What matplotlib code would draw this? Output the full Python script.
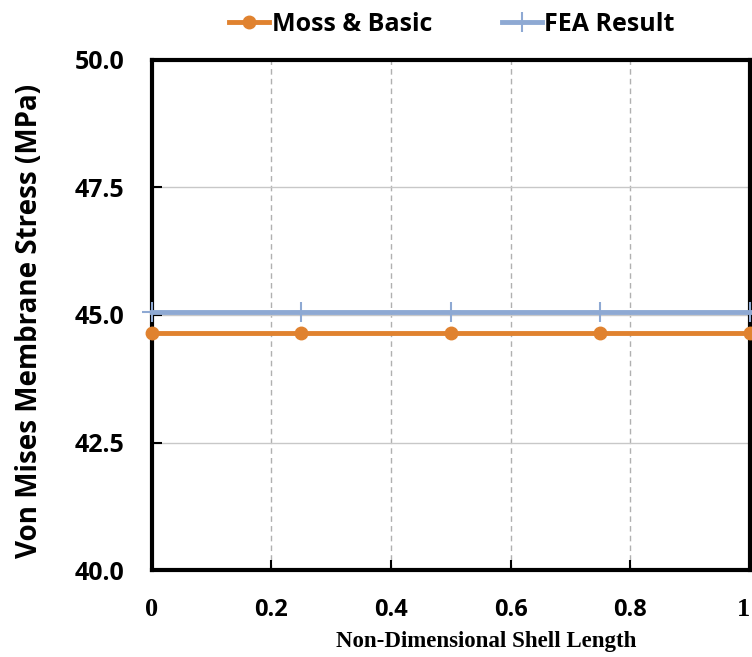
import matplotlib
matplotlib.use("Agg")
import matplotlib.pyplot as plt
from matplotlib.lines import Line2D

x = [0, 0.25, 0.5, 0.75, 1.0]
moss_basic = [44.65, 44.65, 44.65, 44.65, 44.65]
fea_result = [45.05, 45.05, 45.05, 45.05, 45.05]
xticks = [0, 0.2, 0.4, 0.6, 0.8, 1]
xticklabels = ["0", "0.2", "0.4", "0.6", "0.8", "1"]
yticks = [40.0, 42.5, 45.0, 47.5, 50.0]
yticklabels = ["40.0", "42.5", "45.0", "47.5", "50.0"]

fig = plt.figure(figsize=(7.52, 6.57), dpi=100)
ax = fig.add_axes([0.202, 0.1324, 0.795, 0.7763])

orange = "#E0822F"
blue = "#8EA9D3"

ax.plot(x, fea_result, color=blue, lw=3.5, marker="+", ms=14, mew=1.5, clip_on=False, zorder=3)
ax.plot(x, moss_basic, color=orange, lw=3.5, marker="o", ms=9, clip_on=False, zorder=4)

ax.set_xlim(0, 1)
ax.set_ylim(40, 50)
ax.set_xticks(xticks)
ax.set_yticks(yticks)
ax.set_yticklabels(yticklabels, fontfamily="Open Sans", fontweight="bold", fontsize=18)
ax.set_xticklabels(xticklabels, fontfamily="Open Sans", fontweight="bold", fontsize=17)
for lbl in (ax.get_xticklabels()[0], ax.get_xticklabels()[-1]):
    lbl.set_fontfamily("Liberation Serif")
    lbl.set_fontsize(19)
ax.get_xticklabels()[-1].set_horizontalalignment("right")

ax.tick_params(axis="both", direction="in", length=7, width=1.5, colors="black")
ax.tick_params(axis="x", pad=20)
ax.tick_params(axis="y", pad=20)

ax.grid(axis="y", color="#C8C8C8", lw=1, ls="-")
ax.grid(axis="x", color="#B0B0B0", lw=1, ls=(0, (4, 3)))
ax.set_axisbelow(True)

for s in ax.spines.values():
    s.set_linewidth(3)
    s.set_color("black")

fig.text(30 / 752, 1 - 321 / 657, "Von Mises Membrane Stress (MPa)", rotation=90,
         ha="center", va="center", fontfamily="Open Sans", fontweight="bold", fontsize=20)
fig.text(486 / 752, 1 - 641 / 657, "Non-Dimensional Shell Length", ha="center", va="center",
         fontfamily="Liberation Serif", fontweight="bold", fontsize=16.5)

handles = [
    Line2D([], [], color=orange, lw=3.5, marker="o", ms=9),
    Line2D([], [], color=blue, lw=3.5, marker="+", ms=14, mew=1.5),
]
fig.legend(handles, ["Moss & Basic", "FEA Result"], loc="center", bbox_to_anchor=(0.601, 0.963),
           ncol=2, frameon=False, prop={"family": "Open Sans", "weight": "bold", "size": 18},
           handlelength=1.6, handletextpad=0.1, columnspacing=2.8)

fig.savefig("out.png", dpi=100)
